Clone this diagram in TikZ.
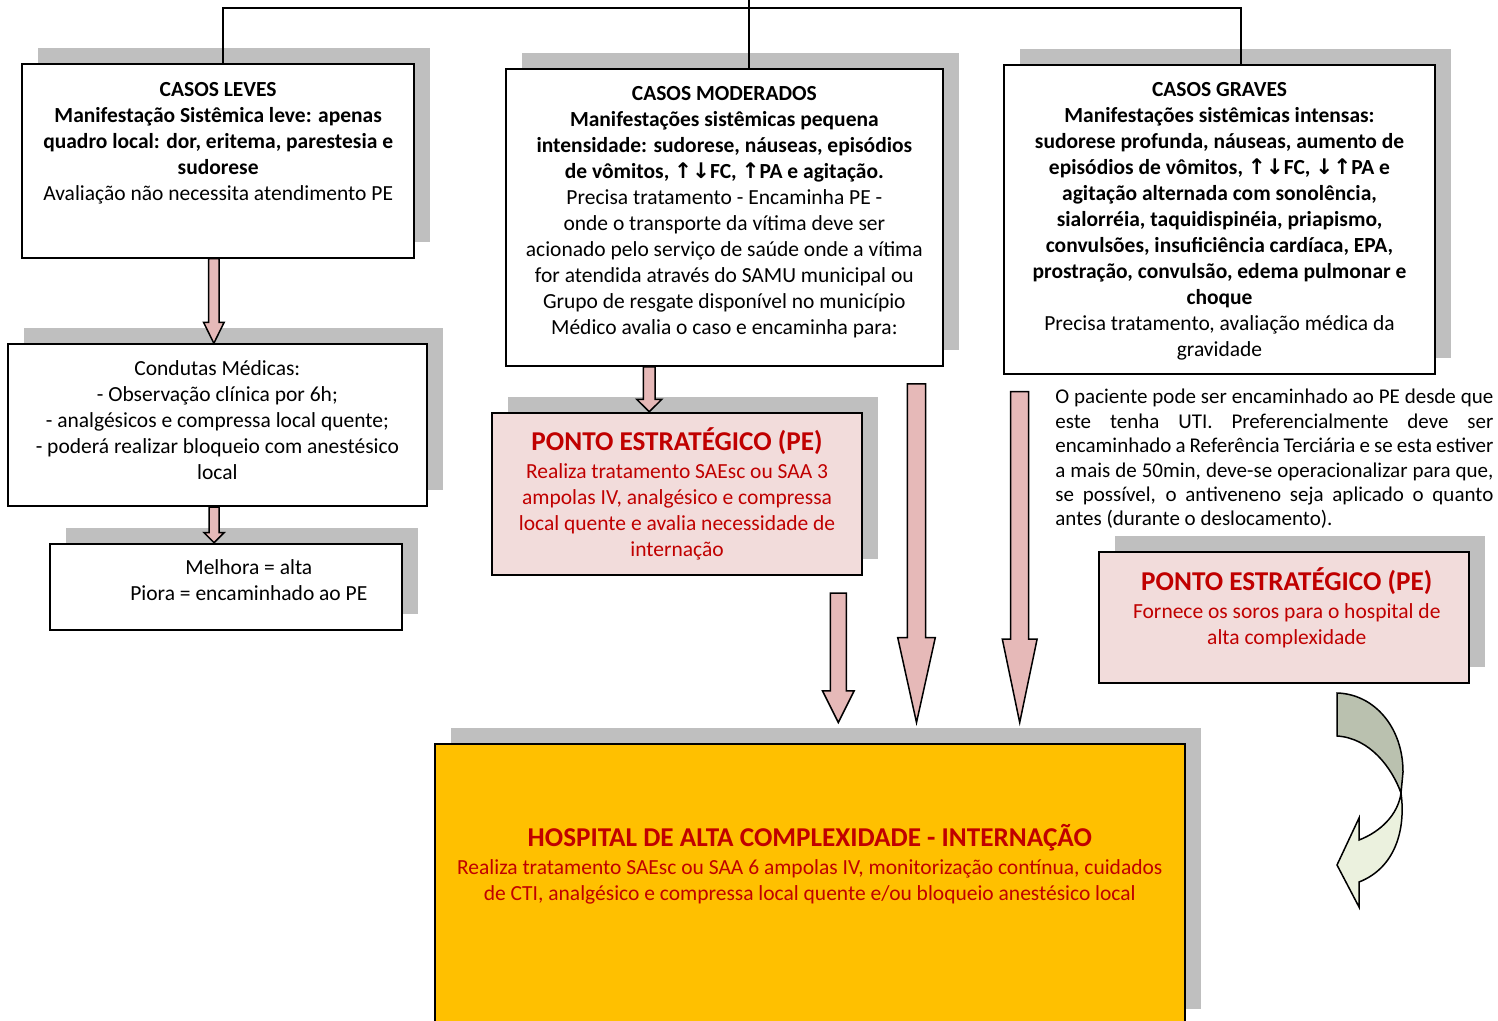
\documentclass[tikz,border=0pt]{standalone}
\usepackage{fontspec}
\setmainfont{Carlito}
\newfontfamily\arrowfont{DejaVu Sans}
\usetikzlibrary{positioning,shadows,calc}

\definecolor{shadowgray}{HTML}{BFBFBF}
\definecolor{peFill}{HTML}{F2DCDB}
\definecolor{peRed}{HTML}{C00000}
\definecolor{arrowFill}{HTML}{E6B9B8}
\definecolor{hospFill}{HTML}{FFC000}
\definecolor{curveDark}{HTML}{BAC1AF}
\definecolor{curveLight}{HTML}{EBF1DE}

\newcommand{\arrup}{{\arrowfont ↑}}
\newcommand{\arrdn}{{\arrowfont ↓}}
\newcommand{\petitle}[1]{\textbf{\fontsize{13.6}{15}\selectfont #1}}

% block arrow: start, end, half shaft, half head, head length
\newcommand{\blockarrow}[5]{%
  \draw[blockarr] let \p1=(#1), \p2=(#2) in
    (\x1-#3,\y1) -- (\x1-#3,\y2+#5) -- (\x1-#4,\y2+#5) -- (\x1,\y2)
    -- (\x1+#4,\y2+#5) -- (\x1+#3,\y2+#5) -- (\x1+#3,\y1) -- cycle;}

\begin{document}
\begin{tikzpicture}[x=0.5pt,y=-0.5pt,
  box/.style={draw, line width=1pt, fill=white, inner sep=0pt, anchor=north west,
    drop shadow={shadow xshift=8pt, shadow yshift=8pt, opacity=1, fill=shadowgray}},
  pebox/.style={box, fill=peFill},
  txt/.style={align=center, inner sep=0pt, font=\fontsize{10.75}{13}\selectfont},
  petxt/.style={txt, text=peRed},
  blockarr/.style={draw, line width=0.75pt, fill=arrowFill, line join=miter}]

\useasboundingbox (0,0) rectangle (1498,1021);

% frames
\node[box, minimum width=196.15pt, minimum height=96.7pt] (leves) at (21,63.3) {};
\node[box, minimum width=218.35pt, minimum height=148.35pt] (moderados) at (505,68.3) {};
\node[box, minimum width=215.8pt, minimum height=154.35pt] (graves) at (1002.7,64) {};
\node[box, minimum width=209.65pt, minimum height=80.85pt] (condutas) at (6.7,343.3) {};
\node[box, minimum width=175.85pt, minimum height=43.3pt] (melhora) at (49,542.7) {};
\node[pebox, minimum width=184.95pt, minimum height=81.3pt] (pemod) at (491.1,411.7) {};
\node[pebox, minimum width=185pt, minimum height=65.65pt] (pegrave) at (1098,551) {};
\node[box, fill=hospFill, minimum width=375pt, minimum height=140.5pt] (hospital) at (433.8,743) {};

% texts
\node[txt, below=9.2pt of leves.north] (leves-t) {\textbf{CASOS LEVES}\\
  \textbf{Manifestação Sistêmica leve: apenas}\\
  \textbf{quadro local: dor, eritema, parestesia e}\\
  \textbf{sudorese}\\
  Avaliação não necessita atendimento PE};
\node[txt, below=8.85pt of moderados.north] (moderados-t) {\textbf{CASOS MODERADOS}\\
  \textbf{Manifestações sistêmicas pequena}\\
  \textbf{intensidade: sudorese, náuseas, episódios}\\
  \textbf{de vômitos, \arrup\arrdn FC, \arrup PA e agitação.}\\
  Precisa tratamento - Encaminha PE -\\
  onde o transporte da vítima deve ser\\
  acionado pelo serviço de saúde onde a vítima\\
  for atendida através do SAMU municipal ou\\
  Grupo de resgate disponível no município\\
  Médico avalia o caso e encaminha para:};
\node[txt, below=8.85pt of graves.north] (graves-t) {\textbf{CASOS GRAVES}\\
  \textbf{Manifestações sistêmicas intensas:}\\
  \textbf{sudorese profunda, náuseas, aumento de}\\
  \textbf{episódios de vômitos, \arrup\arrdn FC, \arrdn\arrup PA e}\\
  \textbf{agitação alternada com sonolência,}\\
  \textbf{sialorréia, taquidispinéia, priapismo,}\\
  \textbf{convulsões, insuficiência cardíaca, EPA,}\\
  \textbf{prostração, convulsão, edema pulmonar e}\\
  \textbf{choque}\\
  Precisa tratamento, avaliação médica da\\
  gravidade};
\node[txt, below=8.2pt of condutas.north] (condutas-t) {Condutas Médicas:\\
  - Observação clínica por 6h;\\
  - analgésicos e compressa local quente;\\
  - poderá realizar bloqueio com anestésico\\
  local};
\node[txt, below=8.4pt of melhora.north, xshift=11.5pt] (melhora-t) {Melhora = alta\\
  Piora = encaminhado ao PE};
\node[petxt, below=8pt of pemod.north] (pemod-t) {\petitle{PONTO ESTRATÉGICO (PE)}\\[1pt]
  Realiza tratamento SAEsc ou SAA 3\\
  ampolas IV, analgésico e compressa\\
  local quente e avalia necessidade de\\
  internação};
\node[petxt, below=8pt of pegrave.north, xshift=1.4pt] (pegrave-t) {\petitle{PONTO ESTRATÉGICO (PE)}\\[1pt]
  Fornece os soros para o hospital de\\
  alta complexidade};
\node[petxt, below=40.7pt of hospital.north] (hospital-t) {\petitle{HOSPITAL DE ALTA COMPLEXIDADE - INTERNAÇÃO}\\[1pt]
  Realiza tratamento SAEsc ou SAA 6 ampolas IV, monitorização contínua, cuidados\\
  de CTI, analgésico e compressa local quente e/ou bloqueio anestésico local};
\node[txt, anchor=north west, text width=219pt, align=justify,
  font=\fontsize{10.5}{12.2}\selectfont] (nota) at (1055,389)
  {\hyphenpenalty=10000 O paciente pode ser encaminhado ao PE desde que\linebreak
  este tenha UTI. Preferencialmente deve ser\linebreak
  encaminhado a Referência Terciária e se esta estiver\linebreak
  a mais de 50min, deve-se operacionalizar para que,\linebreak
  se possível, o antiveneno seja aplicado o quanto\linebreak
  antes (durante o deslocamento).};

% top connector
\coordinate (topo) at (749.3,0);
\coordinate (jl) at (222.7,8.3);
\coordinate (jr) at (1240.7,8.3);
\draw[line width=1pt] (jl |- leves.north) -- (jl) -- (jr) -- (jr |- graves.north);
\draw[line width=1pt] (topo) -- (topo |- moderados.north);

% block arrows
\blockarrow{[xshift=-2.15pt]leves.south}{condutas.north}{2.6pt}{5.15pt}{10.5pt}
\blockarrow{[xshift=-1.65pt]condutas.south}{melhora.north}{2.5pt}{5pt}{5pt}
\blockarrow{[xshift=-37.55pt]moderados.south}{pemod.north}{2.9pt}{6.3pt}{6.2pt}
\blockarrow{[xshift=-12.35pt,yshift=-8.35pt]pemod.south east}{[yshift=10.25pt]hospital.north}{4pt}{7.9pt}{15.8pt}
\blockarrow{[xshift=-13.6pt,yshift=-8.5pt]moderados.south east}{[yshift=10.25pt]hospital.north}{4.6pt}{9.4pt}{42.5pt}
\blockarrow{[xshift=8.5pt,yshift=-8.5pt]graves.south west}{[yshift=10.25pt]hospital.north}{4.5pt}{8.7pt}{41.7pt}

% curved arrow
\filldraw[fill=curveDark, line width=0.75pt] (1337,693) .. controls (1374,694) and (1403,727) .. (1403,772)
  -- (1401,793) .. controls (1392,768) and (1370,738) .. (1337,736) -- cycle;
\filldraw[fill=curveLight, line width=0.75pt] (1401,793) .. controls (1406,830) and (1395,868) .. (1359,882)
  -- (1359,907) -- (1337,865) -- (1359,818) -- (1359,840) .. controls (1380,832) and (1398,815) .. (1401,793) -- cycle;
\end{tikzpicture}
\end{document}
